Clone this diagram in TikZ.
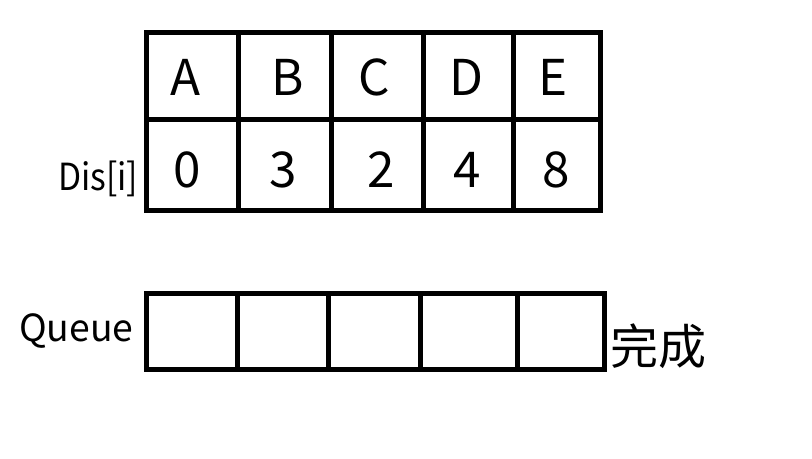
\documentclass[tikz,border=0pt]{standalone}
\usepackage{fontspec}
\setmainfont{Noto Sans CJK SC}
\begin{document}
\begin{tikzpicture}[x=0.75pt,y=-0.75pt,
  grid/.style={line width=3.75pt,line join=miter},
  big/.style={font=\fontsize{37}{40}\selectfont,anchor=base,inner sep=0pt},
  lab/.style={font=\fontsize{28}{32}\selectfont,anchor=base west,inner sep=0pt},
  cjk/.style={font=\fontsize{36}{40}\selectfont,anchor=base west,inner sep=0pt}]
\useasboundingbox[fill=white] (0,0) rectangle (812,458);
% top table
\draw[grid] (146.5,32.5) rectangle (600.5,210.5);
\draw[grid] (146.5,119.5) -- (600.5,119.5);
\foreach \x in {238,331,423,513} \draw[grid] (\x,32.5) -- (\x,210.5);
% letters
\node[big] (hA) at (185,95) {A};
\node[big] (hB) at (287.5,95) {B};
\node[big] (hC) at (374,95) {C};
\node[big] (hD) at (466,95) {D};
\node[big] (hE) at (553,95) {E};
% distances
\node[big] (d0) at (187.5,187) {0};
\node[big] (d1) at (283,187) {3};
\node[big] (d2) at (381,187) {2};
\node[big] (d3) at (467.5,187) {4};
\node[big] (d4) at (556,187) {8};
\node[lab,xscale=0.9] (dis) at (58,190) {Dis[i]};
% queue
\draw[grid] (146.5,293.5) rectangle (604,369);
\foreach \x in {237.7,328.5,420.5,517} \draw[grid] (\x,293.5) -- (\x,369);
\node[lab] (queue) at (19,341) {Queue};
\node[cjk] (done) at (610,364) {完成};
\end{tikzpicture}
\end{document}
